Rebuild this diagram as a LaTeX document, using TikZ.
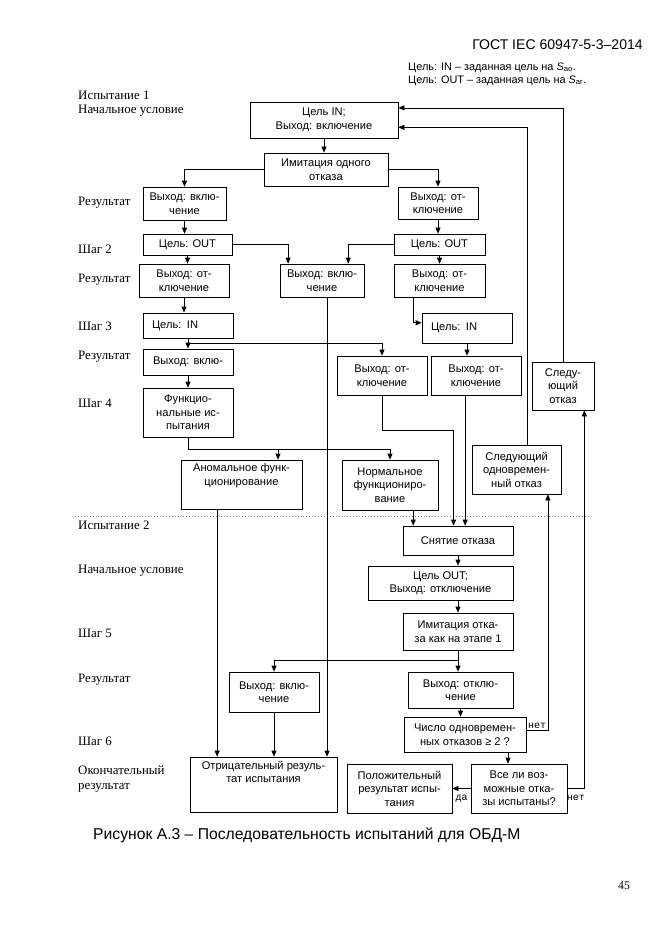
\documentclass[tikz,border=0pt]{standalone}
\usepackage{fontspec}
\setmainfont{Liberation Sans}
\newfontfamily\gostserif{Liberation Serif}
\newfontfamily\gostmono{Liberation Mono}
\usepackage{xcolor}
\usepackage{tikz}
\usetikzlibrary{arrows.meta,positioning,calc}
\tikzset{
  gostbox/.style={draw,line width=0.6pt,inner xsep=1mm,inner ysep=0pt,align=center,font=\fontsize{9.5}{11.5}\selectfont},
  gostsz/.style 2 args={minimum width=#1*0.3mm,minimum height=#2*0.3mm},
  gostleft/.style={align=left,text width=#1*0.3mm,inner xsep=2.7mm},
  gosttext/.style={inner sep=0pt,align=center,font=\fontsize{9.5}{11.5}\selectfont},
  gostflow/.style={-{Triangle[length=1.8mm,width=1.5mm]},line width=0.6pt},
  gostline/.style={line width=0.6pt},
  gostrow/.style={anchor=west,inner sep=0pt,align=left,font=\gostserif\fontsize{11}{13.5}\selectfont},
  gostyn/.style={inner sep=1pt,font=\gostmono\fontsize{8.5}{10}\selectfont},
}
\begin{document}
\begin{tikzpicture}[x=0.3mm,y=-0.3mm]
\useasboundingbox(0,0)rectangle(661,935);
\node[anchor=east,inner sep=0pt,font=\fontsize{12}{14}\selectfont](hdr)at(643,45){ГОСТ IEC 60947-5-3–2014};
\node[anchor=west,inner sep=0pt,align=left,font=\fontsize{9.3}{11}\selectfont](legend)at(408,74.5){Цель: IN – заданная цель на \textit{S}\textsubscript{ao}.\\Цель: OUT – заданная цель на \textit{S}\textsubscript{ar}.};
\node[gostrow](lbtest1)at(78,95){Испытание 1};
\node[gostrow](lbinit1)at(78,111){Начальное условие};
\node[gostrow](lbres1)at(78,203){Результат};
\node[gostrow](lbstep2)at(78,249){Шаг 2};
\node[gostrow](lbres2)at(78,280){Результат};
\node[gostrow](lbstep3)at(78,326){Шаг 3};
\node[gostrow](lbres3)at(78,357){Результат};
\node[gostrow](lbstep4)at(78,403){Шаг 4};
\node[gostrow](lbtest2)at(78,525){Испытание 2};
\node[gostrow](lbinit2)at(78,571){Начальное условие};
\node[gostrow](lbstep5)at(78,633){Шаг 5};
\node[gostrow](lbres5)at(78,680){Результат};
\node[gostrow](lbstep6)at(78,741){Шаг 6};
\node[gostrow](lbfinal)at(78,779){Окончательный\\результат};
\draw[dotted,line width=0.5pt,gray](75,516)--(590,516);
\node[gostbox,gostsz={148}{36}](init1)at(324,120){Цель IN;\\Выход: включение};
\node[gostbox,gostsz={124}{33}](sim1)at(326,169.5){Имитация одного\\отказа};
\node[gostbox,gostsz={83}{33}](on1)at(184.5,203.5){Выход: вклю-\\чение};
\node[gostbox,gostsz={80}{32}](off1)at(438,203){Выход: от-\\ключение};
\node[gostbox,gostsz={89}{21}](out1)at(187.5,244.5){Цель: OUT};
\node[gostbox,gostsz={90}{33}](off2)at(184,280.5){Выход: от-\\ключение};
\node[gostbox,gostsz={84}{33}](on2)at(322,280.5){Выход: вклю-\\чение};
\node[gostbox,gostsz={91}{21}](out2)at(439.5,244.5){Цель: OUT};
\node[gostbox,gostsz={91}{33}](off3)at(439.5,280.5){Выход: от-\\ключение};
\node[gostbox,gostsz={90}{25},gostleft=72](ina)at(188,325.5){Цель: IN};
\node[gostbox,gostsz={90}{30},gostleft=72](inb)at(467,328){Цель: IN};
\node[gostbox,gostsz={90}{26}](on3)at(188,362){Выход: вклю-};
\node[gostbox,gostsz={90}{39}](off4)at(382,375.5){Выход: от-\\ключение};
\node[gostbox,gostsz={90}{39}](off5)at(476,375.5){Выход: от-\\ключение};
\node[gostbox,gostsz={62}{48}](nxt)at(563,386){Следу-\\ющий\\отказ};
\node[gostbox,gostsz={90}{49}](func)at(188,412.5){Функцио-\\нальные ис-\\пытания};
\node[gostbox,gostsz={121}{49}](abn)at(241.5,484.5){};
\node[gosttext,below=1.2mm of abn.north](abntxt){Аномальное функ-\\ционирование};
\node[gostbox,gostsz={96}{50}](norm)at(390,485){Нормальное\\функциониро-\\вание};
\node[gostbox,gostsz={89}{49}](nxtsim)at(516.5,469.5){Следующий\\одновремен-\\ный отказ};
\node[gostbox,gostsz={110}{29}](clr)at(458,540.5){Снятие отказа};
\node[gostbox,gostsz={145}{34}](init2)at(440.5,583){Цель OUT;\\Выход: отключение};
\node[gostbox,gostsz={110}{37}](sim2)at(458,631.5){Имитация отка-\\за как на этапе 1};
\node[gostbox,gostsz={105}{36}](off6)at(460.5,690){Выход: отклю-\\чение};
\node[gostbox,gostsz={90}{40}](on4)at(274,692){Выход: вклю-\\чение};
\node[gostbox,gostsz={122}{35}](cnt)at(465,734.5){Число одновремен-\\ных отказов ≥ 2 ?};
\node[gostbox,gostsz={96}{49}](allq)at(519,788.5){Все ли воз-\\можные отка-\\зы испытаны?};
\node[gostbox,gostsz={105}{49}](posres)at(399.5,788.5){Положительный\\результат испы-\\тания};
\node[gostbox,gostsz={147}{55}](negres)at(263.5,784.5){};
\node[gosttext,below=1.2mm of negres.north](negtxt){Отрицательный резуль-\\тат испытания};
\draw[gostflow](init1.south)--(init1.south|-sim1.north);
\draw[gostflow](sim1.west)-|(on1.north);
\draw[gostflow](sim1.east)-|(off1.north);
\draw[gostflow](on1.south)--(on1.south|-out1.north);
\draw[gostflow](out1.south)--(out1.south|-off2.north);
\draw[gostflow](out1.east)-|($(on2.north west)!.1!(on2.north east)$);
\draw[gostflow](off1.south)--(off1.south|-out2.north);
\draw[gostflow](out2.west)-|($(on2.north west)!.81!(on2.north east)$);
\draw[gostflow](out2.south)--(out2.south|-off3.north);
\draw[gostflow]($(off3.south west)!.21!(off3.south east)$)|-($(inb.north west)!.33!(inb.south west)$);
\draw[gostflow](off2.south)--(off2.south|-ina.north);
\draw[gostflow](ina.south)--(ina.south|-on3.north);
\draw[gostflow]($(ina.south)+(0,5)$)-|(off4.north);
\draw[gostflow](on3.south)--(on3.south|-func.north);
\draw[gostline](func.south)--++(0,12)coordinate(nfork);
\draw[gostflow](nfork)-|($(abn.north west)!.8!(abn.north east)$);
\draw[gostflow](nfork)-|(norm.north);
\draw[gostflow](inb.south)--(inb.south|-off5.north);
\draw[gostflow](off4.south)--++(0,35)-|($(clr.north west)!.46!(clr.north east)$);
\draw[gostflow]($(off5.south west)!.38!(off5.south east)$)coordinate(qout)--(qout|-clr.north);
\draw[gostflow]($(norm.south west)!.74!(norm.south east)$)coordinate(pout)--(pout|-clr.north);
\draw[gostflow]($(abn.south west)!.3!(abn.south east)$)coordinate(oout)--(oout|-negres.north);
\draw[gostflow]($(on2.south west)!.56!(on2.south east)$)coordinate(gout)--(gout|-negres.north);
\draw[gostflow](on4.south)--(on4.south|-negres.north);
\draw[gostflow]($(nxtsim.north west)!.62!(nxtsim.north east)$)|-($(init1.north east)!.7!(init1.south east)$);
\draw[gostflow](nxt.north)|-($(init1.north east)!.17!(init1.south east)$);
\draw[gostflow](clr.south)--(clr.south|-init2.north);
\draw[gostflow](sim2.north|-init2.south)--(sim2.north);
\draw[gostflow](sim2.south)--(sim2.south|-off6.north);
\draw[gostflow](sim2.south)--++(0,10)-|(on4.north);
\draw[gostflow](off6.south)--(off6.south|-cnt.north);
\draw[gostflow]($(cnt.south west)!.85!(cnt.south east)$)coordinate(yout)--(yout|-allq.north);
\draw[gostflow]($(cnt.north east)!.37!(cnt.south east)$)-|node[gostyn,above,pos=.25](yno){нет}($(nxtsim.south west)!.85!(nxtsim.south east)$);
\draw[gostflow](allq.west)--node[gostyn,below=1.6mm](zyes){да}(posres.east);
\draw[gostflow](allq.east)-|node[gostyn,below=1.6mm,pos=.25](zno){нет}($(nxt.south west)!.84!(nxt.south east)$);
\node[anchor=west,inner sep=0pt,font=\fontsize{13.4}{15}\selectfont](caption)at(93,835){Рисунок А.3 – Последовательность испытаний для ОБД-М};
\node[inner sep=0pt,font=\gostserif\fontsize{10}{12}\selectfont](pageno)at(624,886){45};
\end{tikzpicture}
\end{document}
